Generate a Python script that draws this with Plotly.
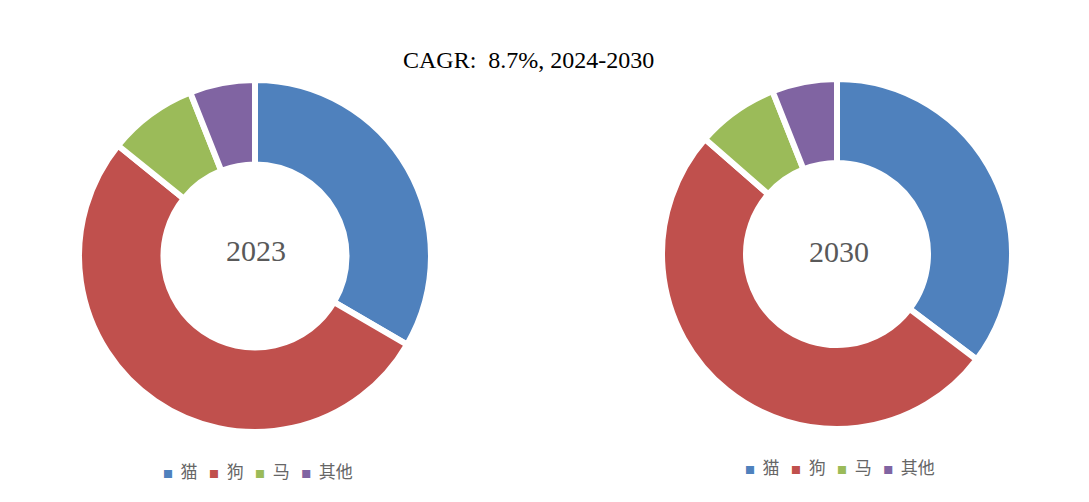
import plotly.graph_objects as go

categories = ["猫", "狗", "马", "其他"]
values_2023 = [33.4, 52.4, 8.2, 6.0]
values_2030 = [35.3, 51.1, 7.6, 6.0]
colors = ["#4F81BD", "#C0504D", "#9BBB59", "#8064A2"]
title_text = "CAGR:  8.7%, 2024-2030"
center_labels = ["2023", "2030"]

W, H = 1089, 502

fig = go.Figure()

def pie(vals, dom_x, dom_y):
    return go.Pie(
        labels=categories, values=vals, hole=0.52, sort=False,
        direction="clockwise", rotation=0,
        marker=dict(colors=colors, line=dict(color="white", width=6)),
        textinfo="none", hoverinfo="label+value",
        domain=dict(x=dom_x, y=dom_y), showlegend=False,
    )

fig.add_trace(pie(values_2023, [79 / W, 431 / W], [(H - 432) / H, (H - 80) / H]))
fig.add_trace(pie(values_2030, [662 / W, 1012 / W], [(H - 429) / H, (H - 79) / H]))

NB = "\u00a0"
def legend_html():
    parts = []
    for c, col in zip(categories, colors):
        parts.append(f'<span style="color:{col};font-size:10px">■</span>{NB}{NB}{c}')
    return (NB * 3).join(parts)

def ann(text, x, y, size, family, color):
    return dict(text=text, x=x / W, y=(H - y) / H, xref="paper", yref="paper",
                xanchor="center", yanchor="middle", showarrow=False,
                font=dict(family=family, size=size, color=color))

fig.update_layout(
    width=W, height=H,
    margin=dict(l=0, r=0, t=0, b=0),
    paper_bgcolor="white", plot_bgcolor="white",
    showlegend=False,
    annotations=[
        ann(title_text, 528, 60, 24, "Liberation Serif", "black"),
        ann(center_labels[0], 256, 250, 30, "Liberation Serif", "#595959"),
        ann(center_labels[1], 839, 251, 30, "Liberation Serif", "#595959"),
        ann(legend_html(), 258, 470, 17, "Noto Sans CJK SC", "#666666"),
        ann(legend_html(), 840, 466, 17, "Noto Sans CJK SC", "#666666"),
    ],
)

fig.write_html("out.html")
